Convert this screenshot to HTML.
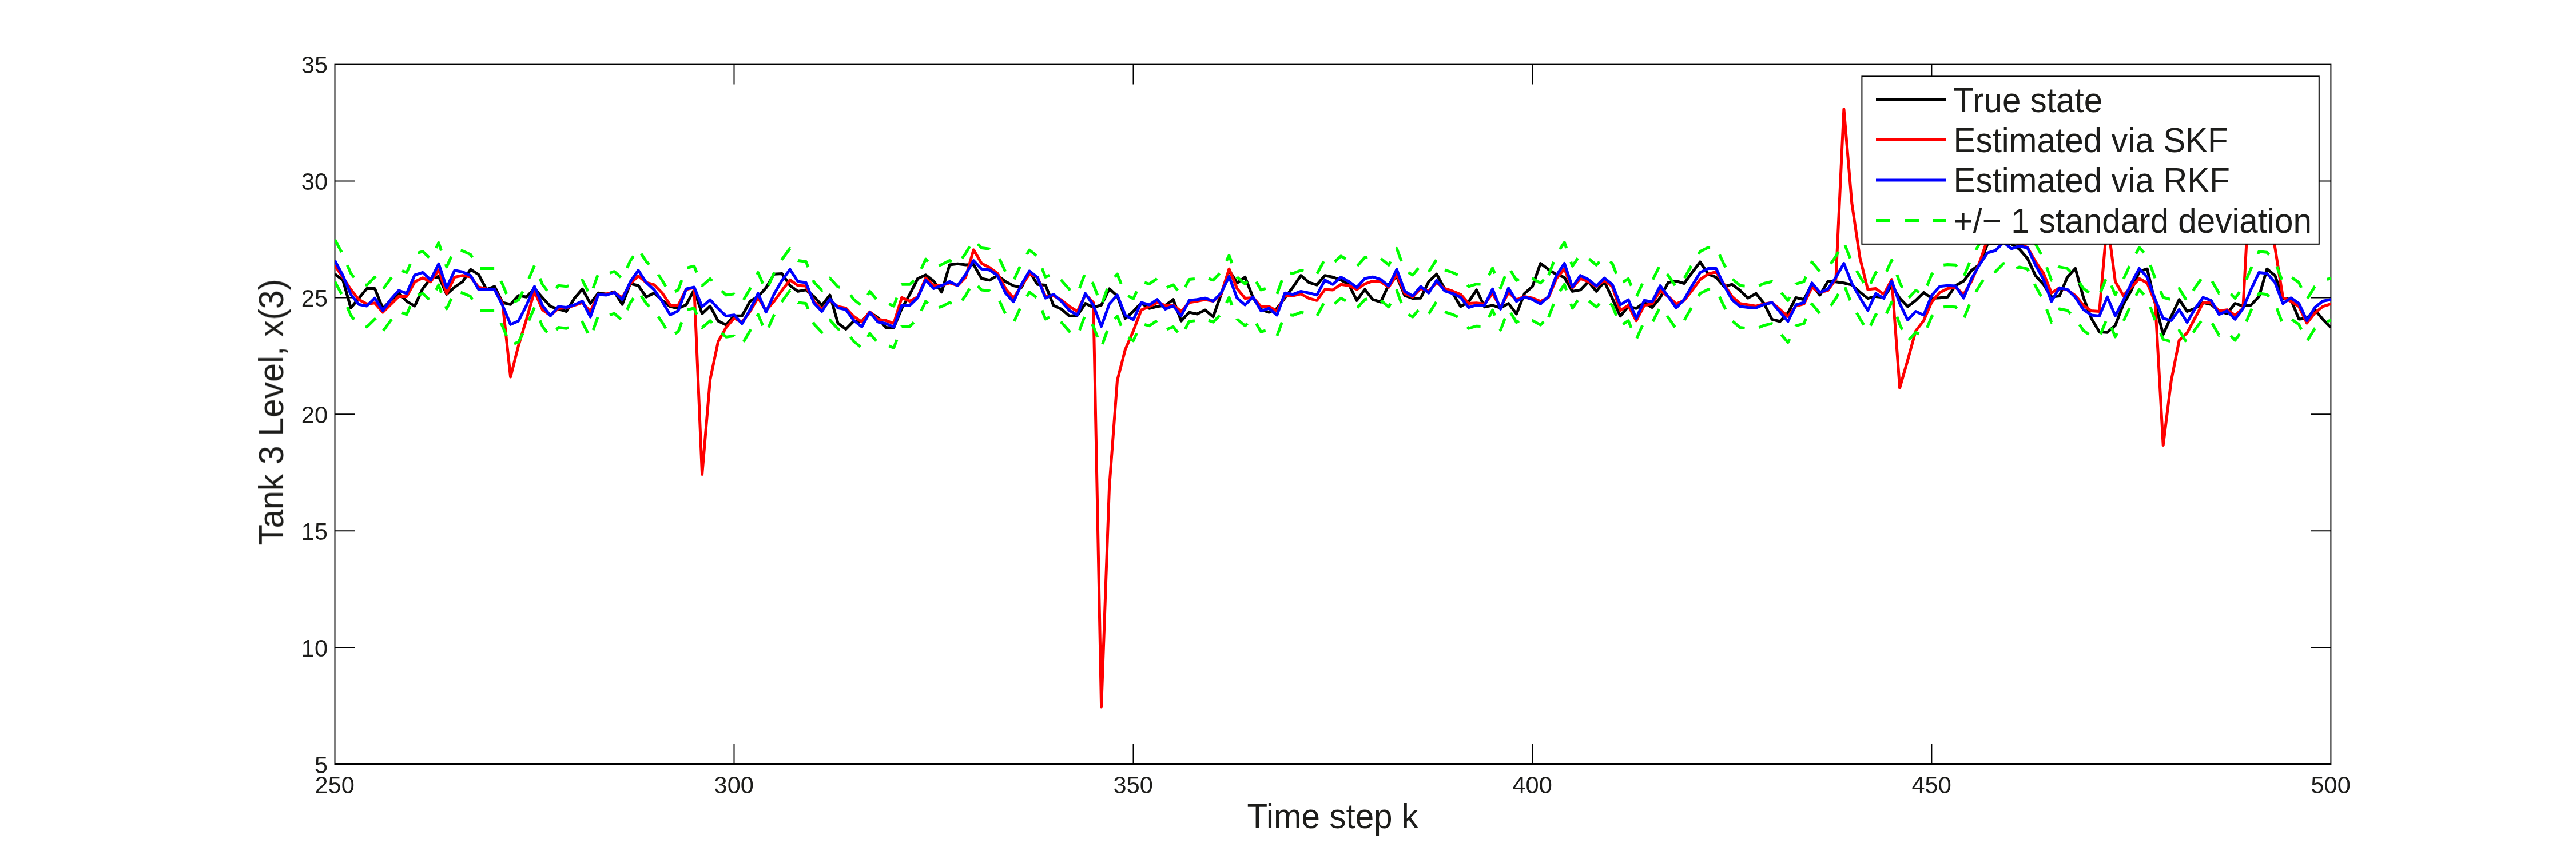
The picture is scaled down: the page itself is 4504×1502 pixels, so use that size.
<!DOCTYPE html>
<html><head><meta charset="utf-8"><title>Tank 3 Level</title>
<style>html,body{margin:0;padding:0;background:#fff}svg{display:block}text{font-family:"Liberation Sans",sans-serif;fill:#1d1d1b}</style></head><body>
<svg width="4504" height="1502" viewBox="0 0 4504 1502">
<rect width="4504" height="1502" fill="#fff"/>
<defs><clipPath id="c"><rect x="585.5" y="112.6" width="3489.9" height="1223.4"/></clipPath><mask id="m" maskUnits="userSpaceOnUse" x="0" y="0" width="4504" height="1502"><rect width="4504" height="1502" fill="#fff"/></mask></defs>
<g stroke="#000" stroke-width="2" fill="none">
<rect x="585.5" y="112.6" width="3489.9" height="1223.4"/>
<path d="M1283.5 1336.0 v-35 M1283.5 112.6 v35"/>
<path d="M1981.5 1336.0 v-35 M1981.5 112.6 v35"/>
<path d="M2679.4 1336.0 v-35 M2679.4 112.6 v35"/>
<path d="M3377.4 1336.0 v-35 M3377.4 112.6 v35"/>
<path d="M585.5 1132.1 h35 M4075.4 1132.1 h-35"/>
<path d="M585.5 928.2 h35 M4075.4 928.2 h-35"/>
<path d="M585.5 724.3 h35 M4075.4 724.3 h-35"/>
<path d="M585.5 520.4 h35 M4075.4 520.4 h-35"/>
<path d="M585.5 316.5 h35 M4075.4 316.5 h-35"/>
</g>
<g clip-path="url(#c)" fill="none" stroke-width="5" stroke-linejoin="round" stroke-linecap="butt">
<path stroke="#000" d="M585.5 479.2 L599.5 489.4 L613.4 538.3 L627.4 521.6 L641.3 504.5 L655.3 504.5 L669.3 539.2 L683.2 525.3 L697.2 512.2 L711.1 526.9 L725.1 535.1 L739.1 504.5 L753.0 487.0 L767.0 483.3 L780.9 514.3 L794.9 502.0 L808.9 492.3 L822.8 471.1 L836.8 480.0 L850.7 506.1 L864.7 500.8 L878.7 529.0 L892.6 532.2 L906.6 516.7 L920.5 519.2 L934.5 504.5 L948.4 520.4 L962.4 535.9 L976.4 540.4 L990.3 544.5 L1004.3 521.6 L1018.2 505.3 L1032.2 530.6 L1046.2 512.2 L1060.1 514.3 L1074.1 510.2 L1088.0 532.2 L1102.0 495.9 L1116.0 499.2 L1129.9 519.2 L1143.9 512.2 L1157.8 525.3 L1171.8 535.9 L1185.8 539.2 L1199.7 533.0 L1213.7 506.9 L1227.6 548.5 L1241.6 535.1 L1255.6 561.2 L1269.5 568.1 L1283.5 552.2 L1297.4 552.2 L1311.4 526.9 L1325.4 518.4 L1339.3 503.3 L1353.3 479.2 L1367.2 478.4 L1381.2 499.2 L1395.2 509.4 L1409.1 506.9 L1423.1 518.4 L1437.0 533.9 L1451.0 515.9 L1465.0 564.9 L1478.9 575.5 L1492.9 561.2 L1506.8 562.0 L1520.8 546.1 L1534.8 555.1 L1548.7 572.6 L1562.7 573.0 L1576.6 539.2 L1590.6 514.7 L1604.6 487.0 L1618.5 480.8 L1632.5 491.4 L1646.4 510.6 L1660.4 462.9 L1674.3 461.3 L1688.3 462.9 L1702.3 462.5 L1716.2 487.0 L1730.2 489.8 L1744.1 481.7 L1758.1 492.3 L1772.1 499.6 L1786.0 502.5 L1800.0 474.7 L1813.9 497.2 L1827.9 498.4 L1841.9 533.9 L1855.8 540.4 L1869.8 552.6 L1883.7 551.4 L1897.7 530.6 L1911.7 537.5 L1925.6 533.4 L1939.6 504.9 L1953.5 517.5 L1967.5 556.7 L1981.5 544.5 L1995.4 529.8 L2009.4 539.2 L2023.3 535.9 L2037.3 533.9 L2051.3 523.7 L2065.2 561.2 L2079.2 546.1 L2093.1 548.9 L2107.1 542.0 L2121.1 553.8 L2135.0 514.7 L2149.0 472.7 L2162.9 494.7 L2176.9 484.5 L2190.9 520.4 L2204.8 541.2 L2218.8 546.1 L2232.7 539.2 L2246.7 520.4 L2260.7 502.0 L2274.6 481.7 L2288.6 493.9 L2302.5 498.0 L2316.5 481.7 L2330.4 484.5 L2344.4 489.4 L2358.4 497.2 L2372.3 525.3 L2386.3 506.1 L2400.2 523.7 L2414.2 528.1 L2428.2 497.2 L2442.1 483.3 L2456.1 516.7 L2470.0 521.6 L2484.0 521.2 L2498.0 492.3 L2511.9 479.2 L2525.9 505.3 L2539.8 512.2 L2553.8 535.9 L2567.8 527.7 L2581.7 506.9 L2595.7 536.7 L2609.6 533.9 L2623.6 538.3 L2637.6 530.6 L2651.5 548.9 L2665.5 513.1 L2679.4 500.8 L2693.4 460.5 L2707.4 471.1 L2721.3 480.0 L2735.3 484.9 L2749.2 509.4 L2763.2 506.9 L2777.2 492.3 L2791.1 509.4 L2805.1 492.3 L2819.0 521.6 L2833.0 552.6 L2847.0 535.9 L2860.9 539.2 L2874.9 529.0 L2888.8 537.5 L2902.8 520.4 L2916.8 493.9 L2930.7 491.4 L2944.7 495.5 L2958.6 476.4 L2972.6 458.0 L2986.6 479.2 L3000.5 484.9 L3014.5 500.8 L3028.4 497.2 L3042.4 507.8 L3056.3 521.2 L3070.3 513.1 L3084.3 530.6 L3098.2 558.3 L3112.2 562.0 L3126.1 547.3 L3140.1 520.4 L3154.1 523.7 L3168.0 497.2 L3182.0 515.9 L3195.9 492.3 L3209.9 492.7 L3223.9 494.7 L3237.8 498.0 L3251.8 510.6 L3265.7 521.6 L3279.7 518.4 L3293.7 520.0 L3307.6 499.2 L3321.6 521.6 L3335.5 535.9 L3349.5 525.3 L3363.5 511.4 L3377.4 521.6 L3391.4 520.8 L3405.3 519.2 L3419.3 499.2 L3433.3 491.4 L3447.2 472.7 L3461.2 462.5 L3475.1 426.6 L3489.1 426.6 L3503.1 422.5 L3517.0 426.6 L3531.0 436.0 L3544.9 451.9 L3558.9 481.7 L3572.9 497.2 L3586.8 519.2 L3600.8 517.5 L3614.7 484.5 L3628.7 469.4 L3642.7 520.0 L3656.6 556.7 L3670.6 580.3 L3684.5 581.2 L3698.5 568.9 L3712.5 532.2 L3726.4 507.8 L3740.4 474.7 L3754.3 470.2 L3768.3 530.6 L3782.2 584.8 L3796.2 553.4 L3810.2 523.7 L3824.1 544.5 L3838.1 539.2 L3852.0 529.0 L3866.0 532.2 L3880.0 544.5 L3893.9 548.1 L3907.9 530.6 L3921.8 535.1 L3935.8 533.4 L3949.8 518.4 L3963.7 470.2 L3977.7 481.7 L3991.6 521.2 L4005.6 523.7 L4019.6 557.9 L4033.5 556.7 L4047.5 541.6 L4061.4 558.3 L4075.4 572.6"/>
<path stroke="#f00" d="M585.5 464.1 L599.5 484.9 L613.4 506.1 L627.4 523.7 L641.3 531.4 L655.3 529.8 L669.3 546.1 L683.2 532.2 L697.2 518.4 L711.1 518.4 L725.1 492.7 L739.1 485.7 L753.0 492.7 L767.0 471.9 L780.9 513.1 L794.9 484.5 L808.9 481.7 L822.8 484.1 L836.8 502.0 L850.7 505.3 L864.7 506.1 L878.7 530.6 L892.6 659.1 L906.6 604.0 L920.5 558.3 L934.5 509.0 L948.4 541.6 L962.4 551.4 L976.4 539.2 L990.3 538.3 L1004.3 533.9 L1018.2 529.0 L1032.2 544.9 L1046.2 514.7 L1060.1 513.9 L1074.1 511.4 L1088.0 520.4 L1102.0 495.9 L1116.0 482.5 L1129.9 493.9 L1143.9 498.0 L1157.8 512.2 L1171.8 533.4 L1185.8 533.9 L1199.7 506.1 L1213.7 502.9 L1227.6 829.5 L1241.6 663.9 L1255.6 597.5 L1269.5 572.6 L1283.5 556.3 L1297.4 563.6 L1311.4 544.5 L1325.4 520.4 L1339.3 542.8 L1353.3 526.9 L1367.2 507.8 L1381.2 489.4 L1395.2 499.2 L1409.1 500.0 L1423.1 526.9 L1437.0 541.2 L1451.0 525.3 L1465.0 535.9 L1478.9 538.8 L1492.9 553.4 L1506.8 562.8 L1520.8 545.3 L1534.8 558.3 L1548.7 560.4 L1562.7 565.7 L1576.6 520.4 L1590.6 526.5 L1604.6 519.2 L1618.5 486.1 L1632.5 499.2 L1646.4 499.2 L1660.4 494.7 L1674.3 499.2 L1688.3 484.9 L1702.3 436.8 L1716.2 460.5 L1730.2 467.8 L1744.1 478.0 L1758.1 504.5 L1772.1 521.6 L1786.0 499.2 L1800.0 479.2 L1813.9 484.5 L1827.9 518.4 L1841.9 517.1 L1855.8 524.5 L1869.8 535.9 L1883.7 544.5 L1897.7 514.7 L1911.7 529.0 L1925.6 1236.1 L1939.6 850.7 L1953.5 665.2 L1967.5 610.9 L1981.5 578.7 L1995.4 542.0 L2009.4 535.9 L2023.3 529.0 L2037.3 533.9 L2051.3 533.4 L2065.2 544.5 L2079.2 529.0 L2093.1 526.5 L2107.1 523.7 L2121.1 526.5 L2135.0 514.7 L2149.0 470.2 L2162.9 504.5 L2176.9 521.6 L2190.9 520.4 L2204.8 535.9 L2218.8 535.9 L2232.7 543.6 L2246.7 516.7 L2260.7 517.1 L2274.6 513.9 L2288.6 521.6 L2302.5 525.3 L2316.5 506.1 L2330.4 506.9 L2344.4 497.2 L2358.4 499.2 L2372.3 506.1 L2386.3 496.3 L2400.2 491.4 L2414.2 492.7 L2428.2 502.0 L2442.1 480.0 L2456.1 513.1 L2470.0 519.2 L2484.0 504.5 L2498.0 509.0 L2511.9 493.9 L2525.9 504.5 L2539.8 509.0 L2553.8 514.7 L2567.8 530.6 L2581.7 529.8 L2595.7 531.4 L2609.6 513.1 L2623.6 537.5 L2637.6 511.4 L2651.5 524.1 L2665.5 518.4 L2679.4 521.2 L2693.4 526.9 L2707.4 520.0 L2721.3 487.0 L2735.3 470.2 L2749.2 503.3 L2763.2 487.0 L2777.2 492.3 L2791.1 500.8 L2805.1 490.2 L2819.0 500.8 L2833.0 542.8 L2847.0 533.9 L2860.9 560.8 L2874.9 533.9 L2888.8 531.4 L2902.8 507.8 L2916.8 518.4 L2930.7 531.4 L2944.7 525.3 L2958.6 507.8 L2972.6 488.6 L2986.6 479.2 L3000.5 475.1 L3014.5 497.2 L3028.4 518.4 L3042.4 530.6 L3056.3 533.0 L3070.3 535.1 L3084.3 531.4 L3098.2 529.0 L3112.2 541.2 L3126.1 553.4 L3140.1 535.1 L3154.1 531.4 L3168.0 502.5 L3182.0 511.4 L3195.9 507.8 L3209.9 487.8 L3223.9 190.5 L3237.8 355.2 L3251.8 449.9 L3265.7 506.1 L3279.7 504.5 L3293.7 514.7 L3307.6 488.6 L3321.6 678.2 L3335.5 629.7 L3349.5 578.7 L3363.5 560.4 L3377.4 528.1 L3391.4 511.4 L3405.3 504.5 L3419.3 502.5 L3433.3 514.7 L3447.2 491.4 L3461.2 458.8 L3475.1 418.5 L3489.1 418.5 L3503.1 414.4 L3517.0 422.5 L3531.0 426.6 L3544.9 432.7 L3558.9 457.2 L3572.9 477.6 L3586.8 512.2 L3600.8 503.3 L3614.7 506.9 L3628.7 516.7 L3642.7 533.9 L3656.6 543.6 L3670.6 544.5 L3684.5 385.8 L3698.5 492.3 L3712.5 516.7 L3726.4 502.5 L3740.4 487.0 L3754.3 494.7 L3768.3 529.0 L3782.2 778.5 L3796.2 666.0 L3810.2 595.0 L3824.1 582.0 L3838.1 555.5 L3852.0 529.4 L3866.0 529.4 L3880.0 543.6 L3893.9 541.6 L3907.9 551.4 L3921.8 539.2 L3935.8 275.7 L3949.8 316.5 L3963.7 357.3 L3977.7 432.7 L3991.6 520.0 L4005.6 526.9 L4019.6 535.9 L4033.5 564.9 L4047.5 547.3 L4061.4 535.9 L4075.4 531.4"/>
<path stroke="#00f" d="M585.5 455.6 L599.5 481.7 L613.4 514.7 L627.4 532.2 L641.3 535.1 L655.3 521.2 L669.3 542.8 L683.2 523.7 L697.2 507.8 L711.1 513.1 L725.1 480.8 L739.1 476.4 L753.0 489.4 L767.0 461.3 L780.9 503.3 L794.9 472.7 L808.9 475.5 L822.8 481.7 L836.8 506.1 L850.7 506.1 L864.7 506.1 L878.7 533.9 L892.6 567.3 L906.6 561.2 L920.5 533.9 L934.5 500.8 L948.4 533.9 L962.4 552.2 L976.4 535.9 L990.3 537.5 L1004.3 533.0 L1018.2 526.5 L1032.2 554.2 L1046.2 514.7 L1060.1 515.9 L1074.1 511.4 L1088.0 523.7 L1102.0 492.7 L1116.0 472.7 L1129.9 493.9 L1143.9 506.9 L1157.8 526.9 L1171.8 550.6 L1185.8 543.6 L1199.7 505.3 L1213.7 502.0 L1227.6 536.3 L1241.6 524.1 L1255.6 539.2 L1269.5 552.6 L1283.5 550.6 L1297.4 565.7 L1311.4 541.6 L1325.4 513.1 L1339.3 545.7 L1353.3 514.3 L1367.2 490.2 L1381.2 471.1 L1395.2 492.3 L1409.1 493.9 L1423.1 529.8 L1437.0 544.5 L1451.0 522.8 L1465.0 538.3 L1478.9 541.2 L1492.9 560.4 L1506.8 571.4 L1520.8 546.1 L1534.8 562.8 L1548.7 565.7 L1562.7 571.8 L1576.6 533.9 L1590.6 533.9 L1604.6 520.4 L1618.5 489.8 L1632.5 504.5 L1646.4 499.2 L1660.4 492.3 L1674.3 499.2 L1688.3 480.0 L1702.3 455.6 L1716.2 470.2 L1730.2 471.9 L1744.1 481.7 L1758.1 512.2 L1772.1 527.7 L1786.0 497.2 L1800.0 473.9 L1813.9 484.9 L1827.9 521.2 L1841.9 514.7 L1855.8 526.9 L1869.8 542.8 L1883.7 551.0 L1897.7 513.1 L1911.7 533.9 L1925.6 570.6 L1939.6 531.4 L1953.5 515.9 L1967.5 551.0 L1981.5 559.1 L1995.4 529.0 L2009.4 533.0 L2023.3 523.7 L2037.3 540.4 L2051.3 534.7 L2065.2 552.2 L2079.2 525.3 L2093.1 523.7 L2107.1 521.2 L2121.1 526.5 L2135.0 512.2 L2149.0 483.3 L2162.9 521.2 L2176.9 533.0 L2190.9 519.2 L2204.8 543.6 L2218.8 539.2 L2232.7 551.0 L2246.7 512.2 L2260.7 514.7 L2274.6 509.4 L2288.6 512.2 L2302.5 515.9 L2316.5 489.8 L2330.4 497.2 L2344.4 484.5 L2358.4 492.3 L2372.3 502.5 L2386.3 487.0 L2400.2 484.1 L2414.2 488.6 L2428.2 500.0 L2442.1 471.1 L2456.1 509.4 L2470.0 517.5 L2484.0 500.8 L2498.0 512.2 L2511.9 490.2 L2525.9 508.6 L2539.8 513.1 L2553.8 520.0 L2567.8 537.5 L2581.7 533.4 L2595.7 533.9 L2609.6 505.3 L2623.6 540.4 L2637.6 503.7 L2651.5 526.9 L2665.5 519.2 L2679.4 523.7 L2693.4 531.4 L2707.4 518.4 L2721.3 481.7 L2735.3 460.5 L2749.2 502.0 L2763.2 481.7 L2777.2 488.6 L2791.1 500.0 L2805.1 486.1 L2819.0 497.2 L2833.0 533.0 L2847.0 524.1 L2860.9 556.7 L2874.9 525.3 L2888.8 527.7 L2902.8 499.6 L2916.8 518.4 L2930.7 538.3 L2944.7 523.7 L2958.6 499.2 L2972.6 476.4 L2986.6 469.4 L3000.5 469.4 L3014.5 499.2 L3028.4 524.1 L3042.4 535.9 L3056.3 537.5 L3070.3 538.3 L3084.3 532.2 L3098.2 529.0 L3112.2 545.7 L3126.1 562.0 L3140.1 533.0 L3154.1 529.0 L3168.0 494.7 L3182.0 511.4 L3195.9 505.3 L3209.9 484.9 L3223.9 460.5 L3237.8 495.5 L3251.8 520.0 L3265.7 542.8 L3279.7 513.1 L3293.7 521.6 L3307.6 491.4 L3321.6 530.6 L3335.5 559.5 L3349.5 544.5 L3363.5 551.0 L3377.4 516.7 L3391.4 500.8 L3405.3 499.2 L3419.3 500.0 L3433.3 521.2 L3447.2 487.0 L3461.2 462.5 L3475.1 442.1 L3489.1 438.0 L3503.1 423.8 L3517.0 434.8 L3531.0 430.3 L3544.9 433.5 L3558.9 463.3 L3572.9 488.6 L3586.8 526.9 L3600.8 503.3 L3614.7 506.1 L3628.7 520.0 L3642.7 541.2 L3656.6 551.0 L3670.6 552.6 L3684.5 519.2 L3698.5 552.2 L3712.5 525.3 L3726.4 495.5 L3740.4 469.4 L3754.3 484.9 L3768.3 523.7 L3782.2 556.7 L3796.2 560.4 L3810.2 541.2 L3824.1 563.6 L3838.1 539.2 L3852.0 520.0 L3866.0 525.3 L3880.0 549.8 L3893.9 543.6 L3907.9 558.3 L3921.8 539.2 L3935.8 506.1 L3949.8 476.4 L3963.7 478.0 L3977.7 493.9 L3991.6 530.6 L4005.6 520.8 L4019.6 530.6 L4033.5 560.4 L4047.5 537.5 L4061.4 526.5 L4075.4 523.7"/>
<path stroke="#0f0" stroke-dasharray="24.90 24.90" d="M585.5 418.9 L599.5 445.0 L613.4 478.0 L627.4 495.5 L638.9 497.9"/>
<path stroke="#0f0" stroke-dasharray="24.72 24.72" d="M638.9 497.9 L641.3 498.4 L655.3 484.5 L669.3 506.1 L683.2 487.0 L697.2 471.1 L711.1 476.4 L725.1 444.1 L739.1 439.7 L753.0 452.7 L767.0 424.6 L780.9 466.6 L794.9 436.0 L808.9 438.8 L822.8 445.0 L836.8 469.4 L839.2 469.4"/>
<path stroke="#0f0" stroke-dasharray="24.93 24.93" d="M839.2 469.4 L850.7 469.4 L864.7 469.4 L878.7 497.2 L892.6 530.6 L906.6 524.5 L920.5 497.2 L934.5 464.1 L948.4 497.2 L962.4 515.5 L972.7 503.5"/>
<path stroke="#0f0" stroke-dasharray="23.85 23.85" d="M972.7 503.5 L976.4 499.2 L990.3 500.8 L1004.3 496.3 L1018.2 489.8 L1032.2 517.5 L1046.2 478.0 L1060.1 479.2 L1066.1 477.3"/>
<path stroke="#0f0" stroke-dasharray="23.66 23.66" d="M1066.1 477.3 L1074.1 474.7 L1088.0 487.0 L1102.0 456.0 L1116.0 436.0 L1129.9 457.2 L1143.9 470.2 L1150.9 480.2"/>
<path stroke="#0f0" stroke-dasharray="24.46 24.46" d="M1150.9 480.2 L1157.8 490.2 L1171.8 513.9 L1185.8 506.9 L1199.7 468.6 L1213.7 465.3 L1227.6 499.6 L1241.6 487.4 L1255.6 502.5 L1262.2 508.8"/>
<path stroke="#0f0" stroke-dasharray="25.11 25.11" d="M1262.2 508.8 L1269.5 515.9 L1283.5 513.9 L1297.4 529.0 L1311.4 504.9 L1325.4 476.4 L1339.3 509.0 L1353.3 477.6 L1367.2 453.5 L1381.2 434.4 L1395.1 455.5"/>
<path stroke="#0f0" stroke-dasharray="24.62 24.62" d="M1395.1 455.5 L1395.2 455.6 L1409.1 457.2 L1423.1 493.1 L1437.0 507.8 L1451.0 486.1 L1465.0 501.6 L1478.9 504.5 L1492.9 523.7 L1506.8 534.7 L1520.8 509.4 L1534.8 526.1 L1548.7 529.0 L1562.7 535.1 L1576.5 497.5"/>
<path stroke="#0f0" stroke-dasharray="24.34 24.34" d="M1576.5 497.5 L1576.6 497.2 L1590.6 497.2 L1604.6 483.7 L1618.5 453.1 L1632.5 467.8 L1641.6 464.3"/>
<path stroke="#0f0" stroke-dasharray="24.73 24.73" d="M1641.6 464.3 L1646.4 462.5 L1660.4 455.6 L1674.3 462.5 L1688.3 443.3 L1702.3 418.9 L1709.6 426.6"/>
<path stroke="#0f0" stroke-dasharray="24.49 24.49" d="M1709.6 426.6 L1716.2 433.5 L1730.2 435.2 L1744.1 445.0 L1758.1 475.5 L1772.1 491.0 L1786.0 460.5 L1800.0 437.2 L1813.9 448.2 L1827.9 484.5 L1841.9 478.0 L1854.6 489.2"/>
<path stroke="#0f0" stroke-dasharray="24.94 24.94" d="M1854.6 489.2 L1855.8 490.2 L1869.8 506.1 L1883.7 514.3 L1897.7 476.4 L1911.7 497.2 L1925.6 533.9 L1939.6 494.7 L1953.5 479.2 L1967.5 514.3 L1981.5 522.4 L1995.4 492.3 L2001.2 494.0"/>
<path stroke="#0f0" stroke-dasharray="24.92 24.92" d="M2001.2 494.0 L2009.4 496.3 L2023.3 487.0 L2037.3 503.7 L2051.3 498.0 L2065.2 515.5 L2079.2 488.6 L2093.1 487.0 L2107.1 484.5 L2113.0 486.8"/>
<path stroke="#0f0" stroke-dasharray="25.07 25.07" d="M2113.0 486.8 L2121.1 489.8 L2135.0 475.5 L2149.0 446.6 L2162.9 484.5 L2176.9 496.3 L2190.9 482.5 L2204.8 506.9 L2218.8 502.5 L2232.7 514.3 L2246.7 475.5 L2255.9 477.2"/>
<path stroke="#0f0" stroke-dasharray="24.52 24.52" d="M2255.9 477.2 L2260.7 478.0 L2274.6 472.7 L2288.6 475.5 L2302.5 479.2 L2316.5 453.1 L2330.4 460.5 L2344.4 447.8 L2358.4 455.6 L2372.3 465.8 L2373.1 464.9"/>
<path stroke="#0f0" stroke-dasharray="24.46 24.46" d="M2373.1 464.9 L2386.3 450.3 L2400.2 447.4 L2414.2 451.9 L2428.2 463.3 L2442.1 434.4 L2456.1 472.7 L2470.0 480.8 L2484.0 464.1 L2498.0 475.5 L2511.9 453.5 L2525.9 471.9"/>
<path stroke="#0f0" stroke-dasharray="24.67 24.67" d="M2525.9 471.9 L2539.8 476.4 L2553.8 483.3 L2567.8 500.8 L2581.7 496.7 L2595.7 497.2 L2609.6 468.6 L2623.6 503.7 L2637.6 467.0 L2651.5 490.2 L2665.5 482.5 L2678.5 486.7"/>
<path stroke="#0f0" stroke-dasharray="25.00 11.60" d="M2678.5 486.7 L2679.4 487.0 L2693.4 494.7 L2707.4 481.7 L2707.6 481.2"/>
<path stroke="#0f0" stroke-dasharray="24.95 24.95" d="M2707.6 481.2 L2721.3 445.0 L2735.3 423.8 L2749.2 465.3 L2763.2 445.0 L2777.2 451.9 L2778.3 452.8"/>
<path stroke="#0f0" stroke-dasharray="24.53 24.53" d="M2778.3 452.8 L2791.1 463.3 L2805.1 449.4 L2815.1 457.4"/>
<path stroke="#0f0" stroke-dasharray="24.41 24.41" d="M2815.1 457.4 L2819.0 460.5 L2833.0 496.3 L2847.0 487.4 L2860.9 520.0 L2874.9 488.6 L2888.8 491.0 L2902.8 462.9 L2916.8 481.7 L2930.7 501.6 L2944.7 487.0 L2958.6 462.5 L2972.6 439.7 L2986.6 432.7 L3000.5 432.7 L3014.5 462.5 L3028.4 487.4 L3029.3 488.1"/>
<path stroke="#0f0" stroke-dasharray="25.43 25.43" d="M3029.3 488.1 L3042.4 499.2 L3056.3 500.8 L3070.3 501.6 L3075.5 499.4"/>
<path stroke="#0f0" stroke-dasharray="24.61 24.61" d="M3075.5 499.4 L3084.3 495.5 L3098.2 492.3 L3112.2 509.0 L3126.1 525.3 L3140.1 496.3 L3154.1 492.3 L3168.0 458.0 L3182.0 474.7 L3195.9 468.6 L3209.9 448.2 L3223.9 423.8 L3237.8 458.8 L3251.8 483.3 L3265.7 506.1 L3279.7 476.4 L3293.7 484.9 L3307.6 454.7 L3321.6 493.9 L3335.5 522.8 L3349.5 507.8 L3363.5 514.3 L3377.4 480.0 L3391.4 464.1 L3398.2 463.3"/>
<path stroke="#0f0" stroke-dasharray="24.66 24.66" d="M3398.2 463.3 L3405.3 462.5 L3419.3 463.3 L3433.3 484.5 L3447.2 450.3 L3461.2 425.8 L3475.1 405.4 L3489.1 401.3 L3503.1 387.0 L3517.0 398.1 L3531.0 393.6 L3544.9 396.8 L3558.9 426.6 L3572.9 451.9 L3586.8 490.2 L3599.5 468.7"/>
<path stroke="#0f0" stroke-dasharray="24.55 24.55" d="M3599.5 468.7 L3600.8 466.6 L3614.7 469.4 L3628.7 483.3 L3642.7 504.5 L3656.6 514.3 L3670.6 515.9 L3684.5 482.5 L3698.5 515.5 L3712.5 488.6 L3726.4 458.8 L3740.4 432.7 L3754.3 448.2 L3768.3 487.0 L3777.6 509.0"/>
<path stroke="#0f0" stroke-dasharray="24.50 24.50" d="M3777.6 509.0 L3782.2 520.0 L3796.2 523.7 L3810.2 504.5 L3824.1 526.9 L3838.1 502.5 L3852.0 483.3 L3866.0 488.6 L3867.8 491.8"/>
<path stroke="#0f0" stroke-dasharray="24.60 24.60" d="M3867.8 491.8 L3880.0 513.1 L3893.9 506.9 L3907.9 521.6 L3921.8 502.5 L3935.8 469.4 L3949.8 439.7 L3963.7 441.3 L3977.7 457.2 L3991.6 493.9 L4005.6 484.1 L4007.3 485.3"/>
<path stroke="#0f0" stroke-dasharray="25.00 25.00" d="M4007.3 485.3 L4019.6 493.9 L4033.5 523.7 L4047.5 500.8 L4061.4 489.8 L4075.4 487.0"/>
<path stroke="#0f0" stroke-dasharray="24.90 24.90" d="M585.5 492.3 L599.5 518.4 L613.4 551.4 L627.4 568.9 L638.9 571.3"/>
<path stroke="#0f0" stroke-dasharray="24.72 24.72" d="M638.9 571.3 L641.3 571.8 L655.3 557.9 L669.3 579.5 L683.2 560.4 L697.2 544.5 L711.1 549.8 L725.1 517.5 L739.1 513.1 L753.0 526.1 L767.0 498.0 L780.9 540.0 L794.9 509.4 L808.9 512.2 L822.8 518.4 L836.8 542.8 L839.2 542.8"/>
<path stroke="#0f0" stroke-dasharray="24.93 24.93" d="M839.2 542.8 L850.7 542.8 L864.7 542.8 L878.7 570.6 L892.6 604.0 L906.6 597.9 L920.5 570.6 L934.5 537.5 L948.4 570.6 L962.4 588.9 L972.7 576.9"/>
<path stroke="#0f0" stroke-dasharray="23.85 23.85" d="M972.7 576.9 L976.4 572.6 L990.3 574.2 L1004.3 569.7 L1018.2 563.2 L1032.2 590.9 L1046.2 551.4 L1060.1 552.6 L1066.1 550.7"/>
<path stroke="#0f0" stroke-dasharray="23.66 23.66" d="M1066.1 550.7 L1074.1 548.1 L1088.0 560.4 L1102.0 529.4 L1116.0 509.4 L1129.9 530.6 L1143.9 543.6 L1150.9 553.6"/>
<path stroke="#0f0" stroke-dasharray="24.46 24.46" d="M1150.9 553.6 L1157.8 563.6 L1171.8 587.3 L1185.8 580.3 L1199.7 542.0 L1213.7 538.8 L1227.6 573.0 L1241.6 560.8 L1255.6 575.9 L1262.2 582.2"/>
<path stroke="#0f0" stroke-dasharray="25.11 25.11" d="M1262.2 582.2 L1269.5 589.3 L1283.5 587.3 L1297.4 602.4 L1311.4 578.3 L1325.4 549.8 L1339.3 582.4 L1353.3 551.0 L1367.2 526.9 L1381.2 507.8 L1395.1 528.9"/>
<path stroke="#0f0" stroke-dasharray="24.62 24.62" d="M1395.1 528.9 L1395.2 529.0 L1409.1 530.6 L1423.1 566.5 L1437.0 581.2 L1451.0 559.5 L1465.0 575.0 L1478.9 577.9 L1492.9 597.1 L1506.8 608.1 L1520.8 582.8 L1534.8 599.5 L1548.7 602.4 L1562.7 608.5 L1576.5 570.9"/>
<path stroke="#0f0" stroke-dasharray="24.34 24.34" d="M1576.5 570.9 L1576.6 570.6 L1590.6 570.6 L1604.6 557.1 L1618.5 526.5 L1632.5 541.2 L1641.6 537.7"/>
<path stroke="#0f0" stroke-dasharray="24.73 24.73" d="M1641.6 537.7 L1646.4 535.9 L1660.4 529.0 L1674.3 535.9 L1688.3 516.7 L1702.3 492.3 L1709.6 500.0"/>
<path stroke="#0f0" stroke-dasharray="24.49 24.49" d="M1709.6 500.0 L1716.2 506.9 L1730.2 508.6 L1744.1 518.4 L1758.1 548.9 L1772.1 564.4 L1786.0 533.9 L1800.0 510.6 L1813.9 521.6 L1827.9 557.9 L1841.9 551.4 L1854.6 562.6"/>
<path stroke="#0f0" stroke-dasharray="24.94 24.94" d="M1854.6 562.6 L1855.8 563.6 L1869.8 579.5 L1883.7 587.7 L1897.7 549.8 L1911.7 570.6 L1925.6 607.3 L1939.6 568.1 L1953.5 552.6 L1967.5 587.7 L1981.5 595.8 L1995.4 565.7 L2001.2 567.4"/>
<path stroke="#0f0" stroke-dasharray="24.92 24.92" d="M2001.2 567.4 L2009.4 569.7 L2023.3 560.4 L2037.3 577.1 L2051.3 571.4 L2065.2 588.9 L2079.2 562.0 L2093.1 560.4 L2107.1 557.9 L2113.0 560.2"/>
<path stroke="#0f0" stroke-dasharray="25.07 25.07" d="M2113.0 560.2 L2121.1 563.2 L2135.0 548.9 L2149.0 520.0 L2162.9 557.9 L2176.9 569.7 L2190.9 555.9 L2204.8 580.3 L2218.8 575.9 L2232.7 587.7 L2246.7 548.9 L2255.9 550.6"/>
<path stroke="#0f0" stroke-dasharray="24.52 24.52" d="M2255.9 550.6 L2260.7 551.4 L2274.6 546.1 L2288.6 548.9 L2302.5 552.6 L2316.5 526.5 L2330.4 533.9 L2344.4 521.2 L2358.4 529.0 L2372.3 539.2 L2373.1 538.3"/>
<path stroke="#0f0" stroke-dasharray="24.46 24.46" d="M2373.1 538.3 L2386.3 523.7 L2400.2 520.8 L2414.2 525.3 L2428.2 536.7 L2442.1 507.8 L2456.1 546.1 L2470.0 554.2 L2484.0 537.5 L2498.0 548.9 L2511.9 526.9 L2525.9 545.3"/>
<path stroke="#0f0" stroke-dasharray="24.67 24.67" d="M2525.9 545.3 L2539.8 549.8 L2553.8 556.7 L2567.8 574.2 L2581.7 570.2 L2595.7 570.6 L2609.6 542.0 L2623.6 577.1 L2637.6 540.4 L2651.5 563.6 L2665.5 555.9 L2678.5 560.1"/>
<path stroke="#0f0" stroke-dasharray="25.00 11.60" d="M2678.5 560.1 L2679.4 560.4 L2693.4 568.1 L2707.4 555.1 L2707.6 554.6"/>
<path stroke="#0f0" stroke-dasharray="24.95 24.95" d="M2707.6 554.6 L2721.3 518.4 L2735.3 497.2 L2749.2 538.8 L2763.2 518.4 L2777.2 525.3 L2778.3 526.2"/>
<path stroke="#0f0" stroke-dasharray="24.53 24.53" d="M2778.3 526.2 L2791.1 536.7 L2805.1 522.8 L2815.1 530.8"/>
<path stroke="#0f0" stroke-dasharray="24.41 24.41" d="M2815.1 530.8 L2819.0 533.9 L2833.0 569.7 L2847.0 560.8 L2860.9 593.4 L2874.9 562.0 L2888.8 564.4 L2902.8 536.3 L2916.8 555.1 L2930.7 575.0 L2944.7 560.4 L2958.6 535.9 L2972.6 513.1 L2986.6 506.1 L3000.5 506.1 L3014.5 535.9 L3028.4 560.8 L3029.3 561.5"/>
<path stroke="#0f0" stroke-dasharray="25.43 25.43" d="M3029.3 561.5 L3042.4 572.6 L3056.3 574.2 L3070.3 575.0 L3075.5 572.8"/>
<path stroke="#0f0" stroke-dasharray="24.61 24.61" d="M3075.5 572.8 L3084.3 568.9 L3098.2 565.7 L3112.2 582.4 L3126.1 598.7 L3140.1 569.7 L3154.1 565.7 L3168.0 531.4 L3182.0 548.1 L3195.9 542.0 L3209.9 521.6 L3223.9 497.2 L3237.8 532.2 L3251.8 556.7 L3265.7 579.5 L3279.7 549.8 L3293.7 558.3 L3307.6 528.1 L3321.6 567.3 L3335.5 596.3 L3349.5 581.2 L3363.5 587.7 L3377.4 553.4 L3391.4 537.5 L3398.2 536.7"/>
<path stroke="#0f0" stroke-dasharray="24.66 24.66" d="M3398.2 536.7 L3405.3 535.9 L3419.3 536.7 L3433.3 557.9 L3447.2 523.7 L3461.2 499.2 L3475.1 478.8 L3489.1 474.7 L3503.1 460.5 L3517.0 471.5 L3531.0 467.0 L3544.9 470.2 L3558.9 500.0 L3572.9 525.3 L3586.8 563.6 L3599.5 542.1"/>
<path stroke="#0f0" stroke-dasharray="24.55 24.55" d="M3599.5 542.1 L3600.8 540.0 L3614.7 542.8 L3628.7 556.7 L3642.7 577.9 L3656.6 587.7 L3670.6 589.3 L3684.5 555.9 L3698.5 588.9 L3712.5 562.0 L3726.4 532.2 L3740.4 506.1 L3754.3 521.6 L3768.3 560.4 L3777.6 582.4"/>
<path stroke="#0f0" stroke-dasharray="24.50 24.50" d="M3777.6 582.4 L3782.2 593.4 L3796.2 597.1 L3810.2 577.9 L3824.1 600.3 L3838.1 575.9 L3852.0 556.7 L3866.0 562.0 L3867.8 565.2"/>
<path stroke="#0f0" stroke-dasharray="24.60 24.60" d="M3867.8 565.2 L3880.0 586.5 L3893.9 580.3 L3907.9 595.0 L3921.8 575.9 L3935.8 542.8 L3949.8 513.1 L3963.7 514.7 L3977.7 530.6 L3991.6 567.3 L4005.6 557.5 L4007.3 558.7"/>
<path stroke="#0f0" stroke-dasharray="25.00 25.00" d="M4007.3 558.7 L4019.6 567.3 L4033.5 597.1 L4047.5 574.2 L4061.4 563.2 L4075.4 560.4"/>
</g>
<rect x="3255.4" y="133.4" width="799.4" height="293.4" fill="#fff" stroke="#000" stroke-width="2"/>
<path d="M3280 174.0 H3403" stroke="#000" stroke-width="5" fill="none"/>
<path d="M3280 244.4 H3403" stroke="#f00" stroke-width="5" fill="none"/>
<path d="M3280 314.9 H3403" stroke="#00f" stroke-width="5" fill="none"/>
<path d="M3280 385.5 H3403" stroke="#0f0" stroke-width="5" fill="none" stroke-dasharray="25 25"/>
<g mask="url(#m)">
<text transform="translate(585.2 1387.2) scale(1 1.040)" font-size="41.50" text-anchor="middle">250</text>
<text transform="translate(1283.2 1387.2) scale(1 1.040)" font-size="41.50" text-anchor="middle">300</text>
<text transform="translate(1981.2 1387.2) scale(1 1.040)" font-size="41.50" text-anchor="middle">350</text>
<text transform="translate(2679.1 1387.2) scale(1 1.040)" font-size="41.50" text-anchor="middle">400</text>
<text transform="translate(3377.1 1387.2) scale(1 1.040)" font-size="41.50" text-anchor="middle">450</text>
<text transform="translate(4075.1 1387.2) scale(1 1.040)" font-size="41.50" text-anchor="middle">500</text>
<text transform="translate(573.0 1351.6) scale(1 1.040)" font-size="41.50" text-anchor="end">5</text>
<text transform="translate(573.0 1147.7) scale(1 1.040)" font-size="41.50" text-anchor="end">10</text>
<text transform="translate(573.0 943.8) scale(1 1.040)" font-size="41.50" text-anchor="end">15</text>
<text transform="translate(573.0 739.9) scale(1 1.040)" font-size="41.50" text-anchor="end">20</text>
<text transform="translate(573.0 536.0) scale(1 1.040)" font-size="41.50" text-anchor="end">25</text>
<text transform="translate(573.0 332.1) scale(1 1.040)" font-size="41.50" text-anchor="end">30</text>
<text transform="translate(573.0 128.2) scale(1 1.040)" font-size="41.50" text-anchor="end">35</text>
<text transform="translate(2330.2 1447.7) scale(1 1.040)" font-size="58.40" text-anchor="middle">Time step k</text>
<text transform="translate(495.2 720.4) rotate(-90) scale(1 1.040)" font-size="59.00" text-anchor="middle">Tank 3 Level, x(3)</text>
<text transform="translate(3415.5 196.0) scale(1 1.040)" font-size="58.40" text-anchor="start">True state</text>
<text transform="translate(3415.5 265.9) scale(1 1.040)" font-size="58.40" text-anchor="start">Estimated via SKF</text>
<text transform="translate(3415.5 336.3) scale(1 1.040)" font-size="58.40" text-anchor="start">Estimated via RKF</text>
<text transform="translate(3415.5 406.9) scale(1 1.040)" font-size="58.40" text-anchor="start">+/− 1 standard deviation</text>
</g>
</svg></body></html>
